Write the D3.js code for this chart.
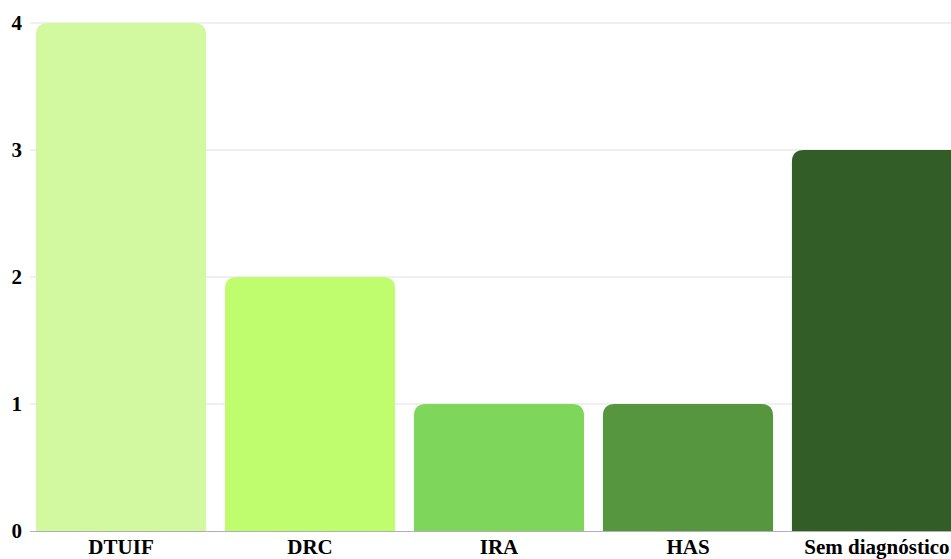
<!DOCTYPE html>
<html>
<head>
<meta charset="utf-8">
<script src="https://cdn.jsdelivr.net/npm/d3@7"></script>
<style>
  html, body { margin: 0; padding: 0; background: #fff; overflow: hidden; }
  svg { display: block; }
  text { font-family: "Liberation Serif", "Times New Roman", serif; font-weight: bold; fill: #000; }
</style>
</head>
<body>
<svg id="chart" width="951" height="559"></svg>
<script>
// Diagnoses and number of cases
const categories = ["DTUIF", "DRC", "IRA", "HAS", "Sem diagnóstico"];
const values = [4, 2, 1, 1, 3];
const barColors = ["#d2f9a0", "#c0fd6e", "#7ed65a", "#55963e", "#335d26"];
const yTicks = [0, 1, 2, 3, 4];

const svg = d3.select("#chart");

const x = d3.scaleBand()
  .domain(categories)
  .range([36, 962])
  .paddingInner(0.1)
  .paddingOuter(0);

const y = d3.scaleLinear()
  .domain([0, 4])
  .range([531, 23]);

// Horizontal gridlines
svg.append("g")
  .selectAll("line")
  .data(yTicks.filter(d => d > 0))
  .join("line")
  .attr("x1", 30).attr("x2", 951)
  .attr("y1", d => y(d)).attr("y2", d => y(d))
  .attr("stroke", "#e0e0e0")
  .attr("stroke-width", 1);

// Bars with rounded top corners
const r = 12;
function barPath(d, i) {
  const x0 = x(categories[i]);
  const w = x.bandwidth();
  const top = y(d);
  const bottom = y(0);
  const rr = Math.min(r, (bottom - top) / 2, w / 2);
  return `M${x0},${bottom}` +
    `V${top + rr}` +
    `Q${x0},${top} ${x0 + rr},${top}` +
    `H${x0 + w - rr}` +
    `Q${x0 + w},${top} ${x0 + w},${top + rr}` +
    `V${bottom}Z`;
}

svg.append("g")
  .selectAll("path")
  .data(values)
  .join("path")
  .attr("d", (d, i) => barPath(d, i))
  .attr("fill", (d, i) => barColors[i]);

// Baseline
svg.append("line")
  .attr("x1", 30).attr("x2", 951)
  .attr("y1", y(0) + 0.5).attr("y2", y(0) + 0.5)
  .attr("stroke", "#b0b0b0")
  .attr("stroke-width", 1);

// Y axis labels
const yAxis = d3.axisLeft(y).tickValues(yTicks).tickFormat(d3.format("d")).tickSize(0).tickPadding(0);
const gy = svg.append("g").attr("transform", "translate(22,0)").call(yAxis);
gy.select(".domain").remove();
gy.selectAll("text")
  .attr("font-size", 21)
  .attr("font-family", "'Liberation Serif', 'Times New Roman', serif")
  .attr("font-weight", "bold")
  .attr("fill", "#000");

// X axis labels
const xAxis = d3.axisBottom(x).tickSize(0).tickPadding(0);
const gx = svg.append("g").attr("transform", `translate(0,${y(0)})`).call(xAxis);
gx.select(".domain").remove();
gx.selectAll("text")
  .attr("font-size", 21)
  .attr("font-family", "'Liberation Serif', 'Times New Roman', serif")
  .attr("font-weight", "bold")
  .attr("fill", "#000")
  .attr("y", 23)
  .attr("dy", "0");
</script>
</body>
</html>
